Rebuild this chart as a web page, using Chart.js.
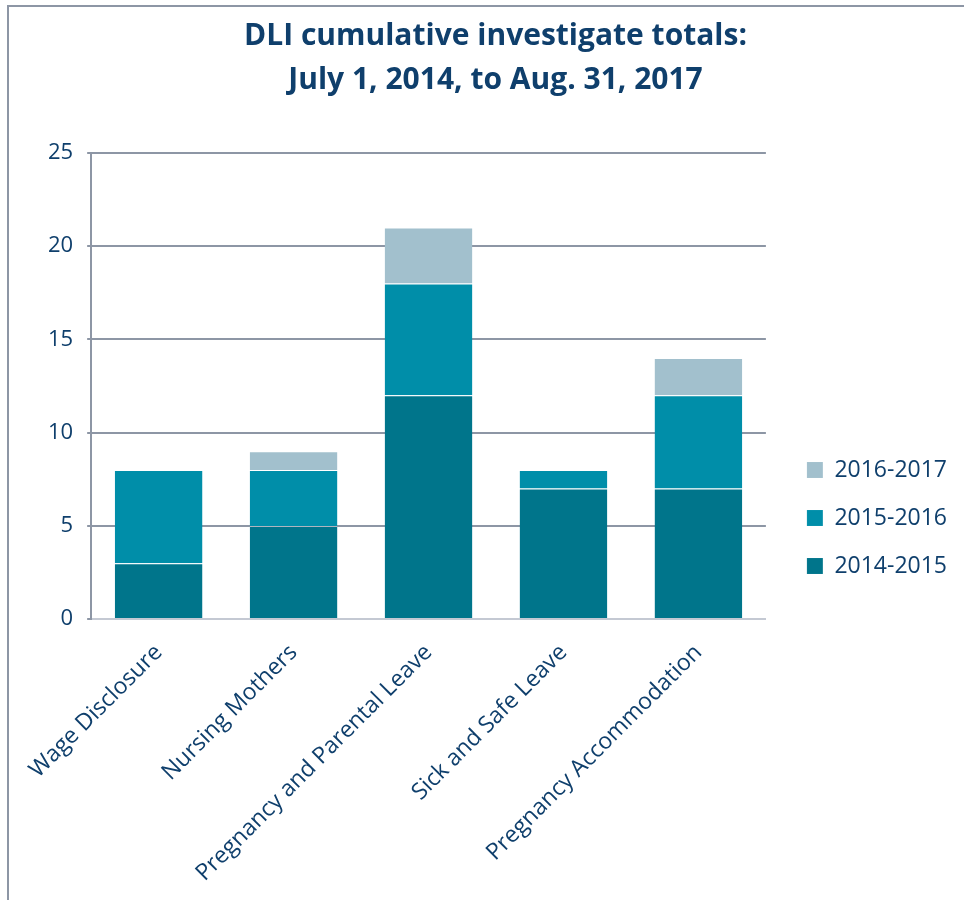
<!DOCTYPE html>
<html>
<head>
<meta charset="utf-8">
<script src="https://cdn.jsdelivr.net/npm/chart.js@4/dist/chart.umd.min.js"></script>
<style>
  html, body { margin: 0; padding: 0; background: #fff; }
  #frame {
    position: absolute; left: 7px; top: 5px; width: 957px; height: 895px;
    border-left: 2px solid #8d96a5; border-top: 2px solid #8d96a5;
  }
  #wrap { position: absolute; left: 0; top: 0; width: 955px; height: 893px; }
</style>
</head>
<body>
<div id="frame"><div id="wrap"><canvas id="chart"></canvas></div></div>
<script>
const categories = ['Wage Disclosure', 'Nursing Mothers', 'Pregnancy and Parental Leave', 'Sick and Safe Leave', 'Pregnancy Accommodation'];
const fy2014 = [3, 5, 12, 7, 7];
const fy2015 = [5, 3, 6, 1, 5];
const fy2016 = [0, 1, 3, 0, 2];
const yTicks = [0, 5, 10, 15, 20, 25];

const navy = '#0f3f6c';
const gridGray = '#8d96a5';

// legend sits a bit away from the plot and lower than centred
const legendGap = 16;
const legendDrop = 62;
const legendShift = {
  id: 'legendShift',
  beforeLayout(chart) {
    const lg = chart.legend;
    if (lg && !lg._shiftPatched) {
      const fit = lg.fit.bind(lg);
      lg.fit = function () { fit(); this.width += legendGap; };
      lg._shiftPatched = true;
    }
  },
  afterLayout(chart) {
    const lg = chart.legend;
    lg.left += legendGap; lg.right += legendGap;
    lg.top += legendDrop; lg.bottom += legendDrop;
  }
};

const ctx = document.getElementById('chart').getContext('2d');
const myChart = new Chart(ctx, {
  type: 'bar',
  data: {
    labels: categories,
    datasets: [
      { label: '2014-2015', data: fy2014, backgroundColor: '#00758b', borderColor: 'rgba(255,255,255,0.3)', borderWidth: { top: 1 }, borderSkipped: false },
      { label: '2015-2016', data: fy2015, backgroundColor: '#008ea9', borderColor: 'rgba(255,255,255,0.3)', borderWidth: { top: 1 }, borderSkipped: false },
      { label: '2016-2017', data: fy2016, backgroundColor: '#a2c0cd', borderColor: 'rgba(255,255,255,0.3)', borderWidth: { top: 1 }, borderSkipped: false }
    ]
  },
  plugins: [legendShift],
  options: {
    responsive: true,
    maintainAspectRatio: false,
    animation: false,
    layout: { padding: { left: 25, right: 7, top: 6, bottom: 1 } },
    datasets: { bar: { barPercentage: 0.65, categoryPercentage: 1 } },
    plugins: {
      title: {
        display: true,
        text: ['DLI cumulative investigate totals:', 'July 1, 2014, to Aug. 31, 2017'],
        color: navy,
        font: { family: 'Open Sans', size: 30, weight: 'bold', lineHeight: 1.45 },
        padding: { top: 2, bottom: 51 }
      },
      legend: {
        position: 'right',
        align: 'center',
        reverse: true,
        labels: {
          color: navy,
          font: { family: 'Open Sans', size: 23 },
          boxWidth: 16,
          boxHeight: 16,
          padding: 25
        }
      },
      tooltip: { enabled: false }
    },
    scales: {
      x: {
        stacked: true,
        grid: { display: false },
        border: { color: '#c4c9d3', width: 2 },
        ticks: {
          color: navy,
          font: { family: 'Open Sans', size: 23 },
          minRotation: 45,
          maxRotation: 45,
          padding: 12
        }
      },
      y: {
        stacked: true,
        min: 0,
        max: 25,
        afterBuildTicks: (axis) => { axis.ticks = yTicks.map(v => ({ value: v })); },
        grid: { color: gridGray, lineWidth: 2, tickLength: 4 },
        border: { color: gridGray, width: 2 },
        ticks: {
          color: navy,
          font: { family: 'Open Sans', size: 22 },
          padding: 14
        }
      }
    }
  }
});
</script>
</body>
</html>
